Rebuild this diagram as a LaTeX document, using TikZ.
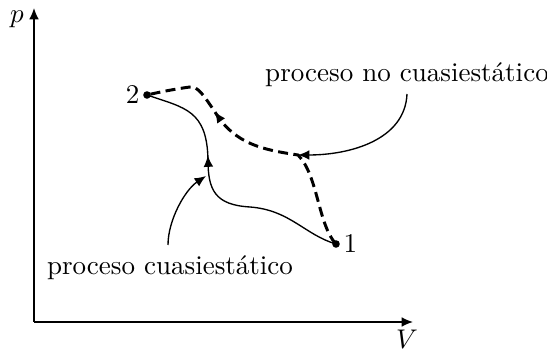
\documentclass[tikz,border=0pt]{standalone}
\usetikzlibrary{arrows.meta,decorations.markings}
\begin{document}
\begin{tikzpicture}[x=0.37pt,y=-0.37pt,
  tip/.style={-{Latex[length=4.2pt,width=3.6pt]}},
  axis/.style={line width=0.5pt,tip},
  dot/.style={circle,fill,inner sep=0pt,minimum size=2.8pt},
  lbl/.style={inner sep=1pt},
  midarrow/.style={postaction={decorate},decoration={markings,mark=at position #1 with {\arrow{Latex[length=4.2pt,width=3.6pt]}}}}]
\useasboundingbox (0,0) rectangle (547,350);
\coordinate (O) at (34,322);
\coordinate (ytop) at (34,8);
\coordinate (xend) at (413,322);
\draw[axis] (O) -- (ytop);
\draw[axis] (O) -- (xend);
\node[lbl] (plab) at (17,19) {$p$};
\node[lbl] (Vlab) at (407,339) {$V$};
\node[dot] (p1) at (336,244) {};
\node[dot] (p2) at (147,95) {};
\node[lbl,right] (l1) at (p1.east) {1};
\node[lbl,left] (l2) at (p2.west) {2};
% quasistatic
\draw[line width=0.5pt,midarrow=0.645] (p1.center)
  .. controls (305,235) and (290,210) .. (250,207)
  .. controls (215,205) and (208,190) .. (208,160)
  .. controls (207,110) and (185,108) .. (p2.center);
% non quasistatic
\draw[line width=1.1pt,dash pattern=on 3.7pt off 2pt,midarrow=0.71] (p1.center)
  .. controls (318,225) and (318,175) .. (298,155)
  .. controls (265,150) and (235,145) .. (215,112)
  .. controls (204,96) and (198,86) .. (190,87)
  .. controls (175,89) and (160,92) .. (p2.center);
% labels
\node[lbl] (tnq) at (407,75) {proceso no cuasiestático};
\node[lbl] (tq) at (170,268) {proceso cuasiestático};
\coordinate (anq) at (298,155);
\coordinate (aq) at (206,176);
\draw[line width=0.5pt,tip] (407,94) .. controls (405,140) and (350,155) .. (anq);
\draw[line width=0.5pt,tip] (168,245) .. controls (168,220) and (185,190) .. (aq);
\end{tikzpicture}
\end{document}
